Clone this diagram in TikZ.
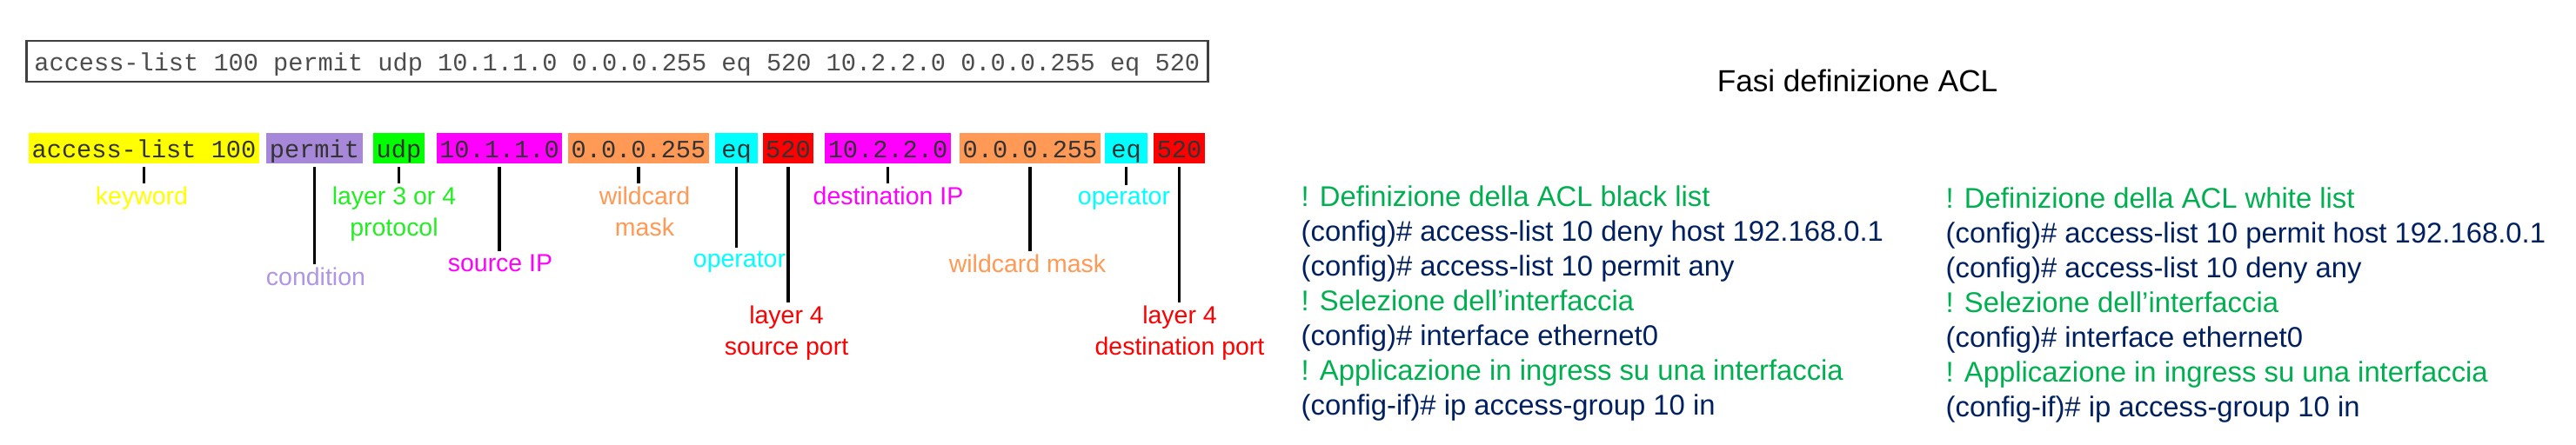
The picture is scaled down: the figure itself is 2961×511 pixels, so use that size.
\documentclass[tikz,border=0pt]{standalone}
\usepackage{fontspec}
\setmainfont{Liberation Sans}
\setmonofont{Liberation Mono}
\definecolor{kwyellow}{RGB}{255,255,0}
\definecolor{condpurple}{RGB}{167,135,216}
\definecolor{condtext}{RGB}{176,150,226}
\definecolor{protogreen}{RGB}{0,255,0}
\definecolor{protolbl}{RGB}{34,238,34}
\definecolor{ipmagenta}{RGB}{255,0,255}
\definecolor{maskorange}{RGB}{255,153,85}
\definecolor{opcyan}{RGB}{0,255,255}
\definecolor{portred}{RGB}{255,0,0}
\definecolor{cmtgreen}{RGB}{0,176,80}
\definecolor{cmdnavy}{RGB}{0,32,96}
\usetikzlibrary{positioning}
\tikzset{
    cmdbox/.style={rectangle, draw=black!75, line width=0.8pt, inner xsep=2.56pt, inner ysep=0pt,
                   minimum height=0.47cm, text height=0.8em, text depth=0.18em, text=black!70,
                   font=\ttfamily\fontsize{8.14}{10}\selectfont},
    tokbox/.style={rectangle, inner xsep=1pt, inner ysep=0pt, minimum height=0.33cm,
                   text height=0.8em, text depth=0.18em, text=black!80,
                   font=\ttfamily\fontsize{8.14}{10}\selectfont},
    lbl/.style={anchor=north, align=center, inner sep=1pt, font=\fontsize{8.1}{10.1}\selectfont},
    tick/.style={line width=1pt, shorten <=1pt},
    cfgtext/.style={anchor=north west, align=left, inner sep=0pt, font=\fontsize{9.33}{11.38}\selectfont},
}
\begin{document}
\begin{tikzpicture}[x=0.01cm, y=-0.01cm]
    \useasboundingbox (0,0) rectangle (2961,511);

    % Full command
    \node[cmdbox, anchor=west] (cmd) at (29,70.5) {access-list 100 permit udp 10.1.1.0 0.0.0.255 eq 520 10.2.2.0 0.0.0.255 eq 520};

    % Title
    \node[anchor=base, font=\fontsize{10}{12}\selectfont] (title) at (2135,105) {Fasi definizione ACL};

    % Tokens
    \node[tokbox, fill=kwyellow] (kw) at (165.5,170.5) {access-list 100};
    \node[tokbox, fill=condpurple] (cond) at (361.5,170.5) {permit};
    \node[tokbox, fill=protogreen] (proto) at (458.5,170.5) {udp};
    \node[tokbox, fill=ipmagenta] (srcip) at (574,170.5) {10.1.1.0};
    \node[tokbox, fill=maskorange] (smask) at (734,170.5) {0.0.0.255};
    \node[tokbox, fill=opcyan, minimum width=0.49cm] (seq) at (846.5,170.5) {eq};
    \node[tokbox, fill=portred] (sport) at (906,170.5) {520};
    \node[tokbox, fill=ipmagenta] (dstip) at (1020.5,170.5) {10.2.2.0};
    \node[tokbox, fill=maskorange] (dmask) at (1184,170.5) {0.0.0.255};
    \node[tokbox, fill=opcyan, minimum width=0.49cm] (deq) at (1294.5,170.5) {eq};
    \node[tokbox, fill=portred] (dport) at (1355.5,170.5) {520};

    % Token labels
    \node[lbl, text=kwyellow] (kwl) at (163,211) {keyword};
    \node[lbl, text=condtext] (condl) at (363,304) {condition};
    \node[lbl, text=protolbl] (protol) at (453,211) {layer 3 or 4\\protocol};
    \node[lbl, text=ipmagenta] (srcipl) at (575,289) {source IP};
    \node[lbl, text=maskorange] (smaskl) at (741,211) {wildcard\\mask};
    \node[lbl, text=opcyan] (seql) at (850,285) {operator};
    \node[lbl, text=portred] (sportl) at (904,348) {layer 4\\source port};
    \node[lbl, text=ipmagenta] (dstipl) at (1021,211) {destination IP};
    \node[lbl, text=maskorange] (dmaskl) at (1181,289) {wildcard mask};
    \node[lbl, text=opcyan] (deql) at (1292,213) {operator};
    \node[lbl, text=portred] (dportl) at (1356,348) {layer 4\\destination port};

    % Ticks
    \draw[tick] (kw.south) -- (kw.south |- kwl.north);
    \draw[tick] (cond.south) -- (cond.south |- condl.north);
    \draw[tick] (proto.south) -- (proto.south |- protol.north);
    \draw[tick] (srcip.south) -- (srcip.south |- srcipl.north);
    \draw[tick] (smask.south) -- (smask.south |- smaskl.north);
    \draw[tick] (seq.south) -- (seq.south |- seql.north);
    \draw[tick] (sport.south) -- (sport.south |- sportl.north);
    \draw[tick] (dstip.south) -- (dstip.south |- dstipl.north);
    \draw[tick] (dmask.south) -- (dmask.south |- dmaskl.north);
    \draw[tick] (deq.south) -- (deq.south |- deql.north);
    \draw[tick] (dport.south) -- (dport.south |- dportl.north);

    % Black list
    \node[cfgtext] (blacklist) at (1495,213) {%
        \textcolor{cmtgreen}{! Definizione della ACL black list}\\
        \textcolor{cmdnavy}{(config)\# access-list 10 deny host 192.168.0.1}\\
        \textcolor{cmdnavy}{(config)\# access-list 10 permit any}\\
        \textcolor{cmtgreen}{! Selezione dell’interfaccia}\\
        \textcolor{cmdnavy}{(config)\# interface ethernet0}\\
        \textcolor{cmtgreen}{! Applicazione in ingress su una interfaccia}\\
        \textcolor{cmdnavy}{(config-if)\# ip access-group 10 in}};

    % White list
    \node[cfgtext] (whitelist) at (2236,215) {%
        \textcolor{cmtgreen}{! Definizione della ACL white list}\\
        \textcolor{cmdnavy}{(config)\# access-list 10 permit host 192.168.0.1}\\
        \textcolor{cmdnavy}{(config)\# access-list 10 deny any}\\
        \textcolor{cmtgreen}{! Selezione dell’interfaccia}\\
        \textcolor{cmdnavy}{(config)\# interface ethernet0}\\
        \textcolor{cmtgreen}{! Applicazione in ingress su una interfaccia}\\
        \textcolor{cmdnavy}{(config-if)\# ip access-group 10 in}};
\end{tikzpicture}
\end{document}
